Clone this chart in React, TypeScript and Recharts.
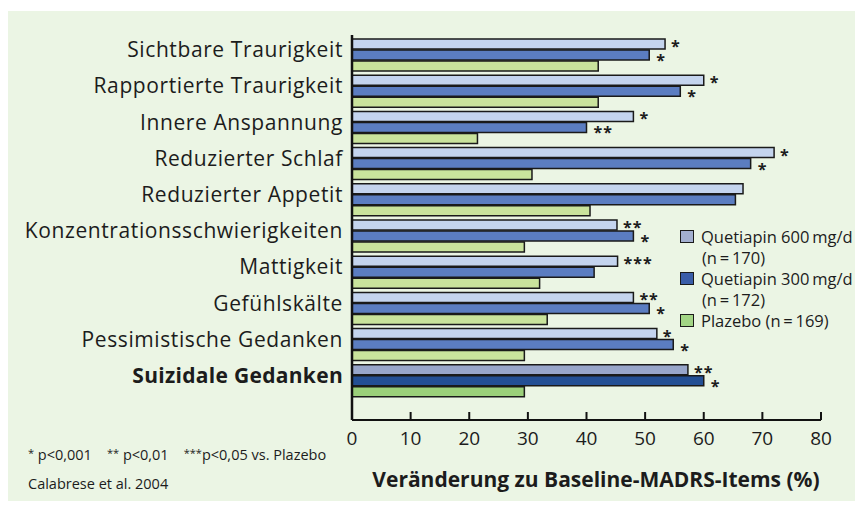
import React from 'react';
import { BarChart, Bar, XAxis, YAxis, Cell, LabelList } from 'recharts';

const categories = [
  'Sichtbare Traurigkeit',
  'Rapportierte Traurigkeit',
  'Innere Anspannung',
  'Reduzierter Schlaf',
  'Reduzierter Appetit',
  'Konzentrationsschwierigkeiten',
  'Mattigkeit',
  'Gefühlskälte',
  'Pessimistische Gedanken',
  'Suizidale Gedanken',
];
const q600 = [53.4, 60, 48, 72, 66.7, 45.2, 45.3, 48, 52, 57.3];
const q300 = [50.7, 56, 40, 68, 65.4, 48, 41.3, 50.7, 54.8, 60];
const placebo = [42, 42, 21.4, 30.7, 40.6, 29.4, 32, 33.3, 29.4, 29.4];
const stars600 = ['*', '*', '*', '*', '', '**', '***', '**', '*', '**'];
const stars300 = ['*', '*', '**', '*', '', '*', '', '*', '*', '*'];
const xTicks = [0, 10, 20, 30, 40, 50, 60, 70, 80];
const legendLines = [
  { label: 'Quetiapin 600\u2009mg/d', sub: '(n\u2009=\u2009170)' },
  { label: 'Quetiapin 300\u2009mg/d', sub: '(n\u2009=\u2009172)' },
  { label: 'Plazebo (n\u2009=\u2009169)', sub: '' },
];
const highlightCategory = 'Suizidale Gedanken';

const data = categories.map((c, i) => ({
  name: c,
  q600: q600[i],
  q300: q300[i],
  placebo: placebo[i],
}));

const FONT = '"Open Sans", "Noto Sans", sans-serif';
const TEXT = '#1c1c1c';

const normalColors = ['#C4D4EE', '#5B7DC1', '#C9E39C'];
const hiColors = ['#98A6CA', '#234F94', '#9BD07A'];
const legendColors = ['#A3AFD0', '#3A5DA8', '#A2D585'];

const CatTick = (props: any) => {
  const { y, payload } = props;
  const bold = payload.value === highlightCategory;
  return (
    <text
      x={343}
      y={y - 6}
      textAnchor="end"
      dominantBaseline="central"
      fontFamily={FONT}
      fontSize={21}
      letterSpacing={bold ? 0.3 : 0.6}
      fontWeight={bold ? 700 : 400}
      fill={TEXT}
    >
      {payload.value}
    </text>
  );
};

const makeStars = (stars: string[], dx: number, dy: number) => (props: any) => {
  const { x, y, width, height, index } = props;
  const s = stars[index];
  if (!s) return null;
  return (
    <text
      x={x + width + dx}
      y={y + height / 2 + dy}
      fontFamily={FONT}
      fontSize={16}
      fontWeight={700}
      letterSpacing={1}
      fill={TEXT}
    >
      {s}
    </text>
  );
};

export default function App() {
  const seriesKeys = ['q600', 'q300', 'placebo'];
  const starRenderers = [makeStars(stars600, 6, 8), makeStars(stars300, 7, 11), null];
  return (
    <div style={{ position: 'relative', width: 863, height: 509, margin: -8, background: '#fff', fontFamily: FONT }}>
      <div style={{ position: 'absolute', left: 5, top: 11, width: 858, height: 498, background: '#EBF5E4' }} />
      <div style={{ position: 'absolute', left: 0, top: 0 }}>
        <BarChart
          width={863}
          height={509}
          data={data}
          layout="vertical"
          margin={{ top: 35, right: 42, bottom: 29, left: 0 }}
          barSize={10}
          barGap={1}
        >
          <XAxis
            type="number"
            domain={[0, 80]}
            ticks={xTicks}
            height={60}
            axisLine={{ stroke: '#111', strokeWidth: 2 }}
            tickLine={{ stroke: '#111', strokeWidth: 2 }}
            tickSize={-8}
            tickMargin={20}
            tick={{ fill: TEXT, fontSize: 19, fontFamily: FONT }}
          />
          <YAxis
            type="category"
            dataKey="name"
            width={352}
            axisLine={{ stroke: '#111', strokeWidth: 2.5 }}
            tickLine={false}
            tick={<CatTick />}
            padding={{ top: 2, bottom: 21 }}
            interval={0}
          />
          {seriesKeys.map((k, si) => (
            <Bar
              key={k}
              dataKey={k}
              isAnimationActive={false}
              stroke="#1a1a1a"
              strokeWidth={1.5}
            >
              {data.map((d, i) => (
                <Cell key={i} fill={d.name === highlightCategory ? hiColors[si] : normalColors[si]} />
              ))}
              {starRenderers[si] ? <LabelList content={starRenderers[si] as any} /> : null}
            </Bar>
          ))}
        </BarChart>
      </div>
      {/* legend */}
      <div style={{ position: 'absolute', left: 680, top: 226, fontSize: 16.5, color: TEXT, lineHeight: '21px' }}>
        {legendLines.map((l, i) => (
          <div key={i}>
            <div style={{ display: 'flex', alignItems: 'center' }}>
              <span style={{ display: 'inline-block', width: 12, height: 11, background: legendColors[i], border: '1.5px solid #1a1a1a', marginRight: 7 }} />
              <span style={{ whiteSpace: 'nowrap' }}>{l.label}</span>
            </div>
            {l.sub ? <div style={{ paddingLeft: 22 }}>{l.sub}</div> : null}
          </div>
        ))}
      </div>
      {/* footnotes */}
      <div style={{ position: 'absolute', left: 28, top: 445, fontSize: 14.5, color: TEXT, whiteSpace: 'nowrap' }}>
        <span style={{ fontSize: 11, verticalAlign: 'top' }}>*</span> p&lt;0,001&nbsp;&nbsp;&nbsp;&nbsp;
        <span style={{ fontSize: 11, verticalAlign: 'top' }}>**</span> p&lt;0,01&nbsp;&nbsp;&nbsp;&nbsp;
        <span style={{ fontSize: 11, verticalAlign: 'top' }}>***</span>p&lt;0,05 vs. Plazebo
      </div>
      <div style={{ position: 'absolute', left: 28, top: 474, fontSize: 14.5, color: TEXT, whiteSpace: 'nowrap' }}>
        Calabrese et al. 2004
      </div>
      {/* x axis title */}
      <div style={{ position: 'absolute', left: 596, top: 465, transform: 'translateX(-50%)', fontSize: 21, fontWeight: 700, color: TEXT, whiteSpace: 'nowrap' }}>
        Veränderung zu Baseline-MADRS-Items (%)
      </div>
    </div>
  );
}
